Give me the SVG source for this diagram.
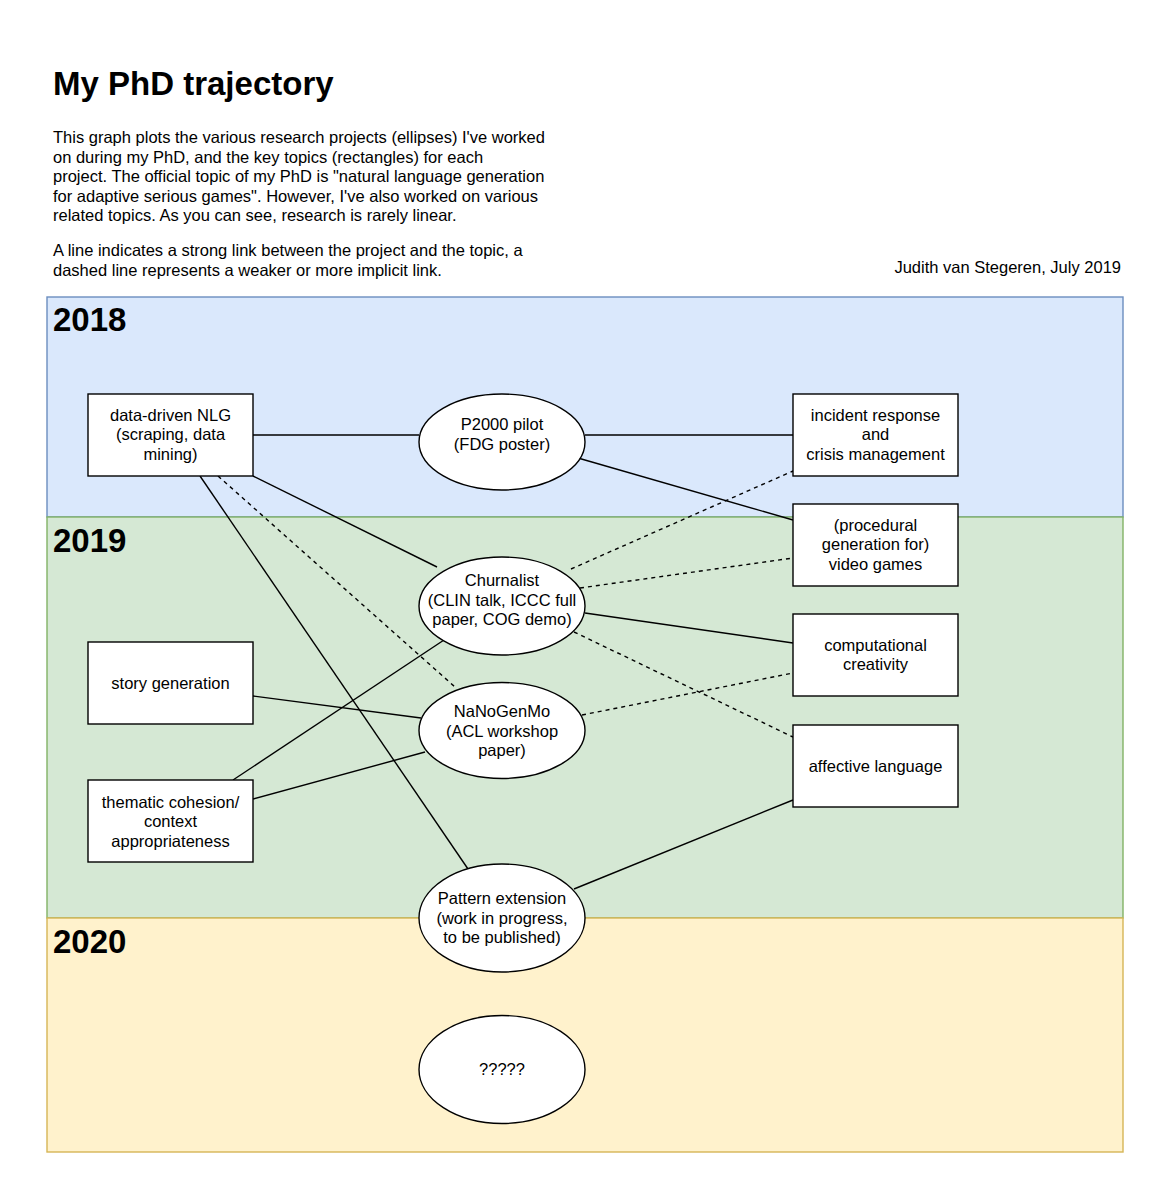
<svg xmlns="http://www.w3.org/2000/svg" width="1171" height="1200" viewBox="0 0 1171 1200">
<style>
text{font-family:"Liberation Sans",Arial,Helvetica,sans-serif;fill:#000}
.t{font-size:16.5px;text-anchor:middle}
.p{font-size:16.5px}
.yr{font-size:33px;font-weight:bold}
.box{fill:#fff;stroke:#000;stroke-width:1.4}
.e{stroke:#000;stroke-width:1.4;fill:none}
.d{stroke-dasharray:4 4}
</style>
<rect width="1171" height="1200" fill="#fff"/>
<g id="header">
<text x="53" y="95" style="font-size:33px;font-weight:bold">My PhD trajectory</text>
<text class="p" x="53" y="143">This graph plots the various research projects (ellipses) I've worked</text>
<text class="p" x="53" y="162.5">on during my PhD, and the key topics (rectangles) for each</text>
<text class="p" x="53" y="182">project. The official topic of my PhD is "natural language generation</text>
<text class="p" x="53" y="201.5">for adaptive serious games". However, I've also worked on various</text>
<text class="p" x="53" y="221">related topics. As you can see, research is rarely linear.</text>
<text class="p" x="53" y="256">A line indicates a strong link between the project and the topic, a</text>
<text class="p" x="53" y="275.5">dashed line represents a weaker or more implicit link.</text>
<text class="p" x="1121" y="273" text-anchor="end">Judith van Stegeren, July 2019</text>
</g>
<g id="bands">
<rect x="47" y="297" width="1076" height="220" fill="#dae8fc" stroke="#6c8ebf" stroke-width="1.4"/>
<rect x="47" y="517" width="1076" height="401" fill="#d5e8d4" stroke="#82b366" stroke-width="1.4"/>
<rect x="47" y="918" width="1076" height="234" fill="#fff2cc" stroke="#d6b656" stroke-width="1.4"/>
<text class="yr" x="53" y="331">2018</text>
<text class="yr" x="53" y="552">2019</text>
<text class="yr" x="53" y="953">2020</text>
</g>
<g id="connectors">
<line class="e" x1="253" y1="435" x2="419" y2="435"/>
<line class="e" x1="585" y1="435" x2="793" y2="435"/>
<line class="e" x1="578" y1="458" x2="793" y2="520"/>
<line class="e" x1="253" y1="476" x2="437" y2="567"/>
<line class="e" x1="200" y1="476" x2="468" y2="869"/>
<line class="e" x1="585" y1="613" x2="793" y2="643"/>
<line class="e" x1="253" y1="696" x2="421" y2="718"/>
<line class="e" x1="233" y1="780" x2="444" y2="640"/>
<line class="e" x1="253" y1="799" x2="425" y2="752"/>
<line class="e" x1="574" y1="889" x2="793" y2="800"/>
<line class="e d" x1="218" y1="476" x2="455" y2="687"/>
<line class="e d" x1="571" y1="569" x2="793" y2="471"/>
<line class="e d" x1="580" y1="588" x2="793" y2="558"/>
<line class="e d" x1="574" y1="632" x2="793" y2="737"/>
<line class="e d" x1="582" y1="715" x2="793" y2="673"/>
</g>
<g id="data-driven-nlg">
<rect class="box" x="88" y="394" width="165" height="82"/>
<text class="t" x="170.5" y="420.5">data-driven NLG</text>
<text class="t" x="170.5" y="440">(scraping, data</text>
<text class="t" x="170.5" y="459.5">mining)</text>
</g>
<g id="incident-response">
<rect class="box" x="793" y="394" width="165" height="82"/>
<text class="t" x="875.5" y="420.5">incident response</text>
<text class="t" x="875.5" y="440">and</text>
<text class="t" x="875.5" y="459.5">crisis management</text>
</g>
<g id="video-games">
<rect class="box" x="793" y="504" width="165" height="82"/>
<text class="t" x="875.5" y="530.5">(procedural</text>
<text class="t" x="875.5" y="550">generation for)</text>
<text class="t" x="875.5" y="569.5">video games</text>
</g>
<g id="computational-creativity">
<rect class="box" x="793" y="614" width="165" height="82"/>
<text class="t" x="875.5" y="650.5">computational</text>
<text class="t" x="875.5" y="670">creativity</text>
</g>
<g id="affective-language">
<rect class="box" x="793" y="725" width="165" height="82"/>
<text class="t" x="875.5" y="771.5">affective language</text>
</g>
<g id="story-generation">
<rect class="box" x="88" y="642" width="165" height="82"/>
<text class="t" x="170.5" y="688.5">story generation</text>
</g>
<g id="thematic-cohesion">
<rect class="box" x="88" y="780" width="165" height="82"/>
<text class="t" x="170.5" y="807.5">thematic cohesion/</text>
<text class="t" x="170.5" y="827">context</text>
<text class="t" x="170.5" y="846.5">appropriateness</text>
</g>
<g id="p2000">
<ellipse class="box" cx="502" cy="442" rx="83" ry="48"/>
<text class="t" x="502" y="430">P2000 pilot</text>
<text class="t" x="502" y="449.5">(FDG poster)</text>
</g>
<g id="churnalist">
<ellipse class="box" cx="502" cy="606" rx="83" ry="49"/>
<text class="t" x="502" y="586">Churnalist</text>
<text class="t" x="502" y="605.5">(CLIN talk, ICCC full</text>
<text class="t" x="502" y="625">paper, COG demo)</text>
</g>
<g id="nanogenmo">
<ellipse class="box" cx="502" cy="730.5" rx="83" ry="48"/>
<text class="t" x="502" y="717">NaNoGenMo</text>
<text class="t" x="502" y="736.5">(ACL workshop</text>
<text class="t" x="502" y="756">paper)</text>
</g>
<g id="pattern-extension">
<ellipse class="box" cx="502" cy="918" rx="83" ry="54"/>
<text class="t" x="502" y="904">Pattern extension</text>
<text class="t" x="502" y="923.5">(work in progress,</text>
<text class="t" x="502" y="943">to be published)</text>
</g>
<g id="unknown">
<ellipse class="box" cx="502" cy="1069.5" rx="83" ry="54"/>
<text class="t" x="502" y="1075">?????</text>
</g>
</svg>
